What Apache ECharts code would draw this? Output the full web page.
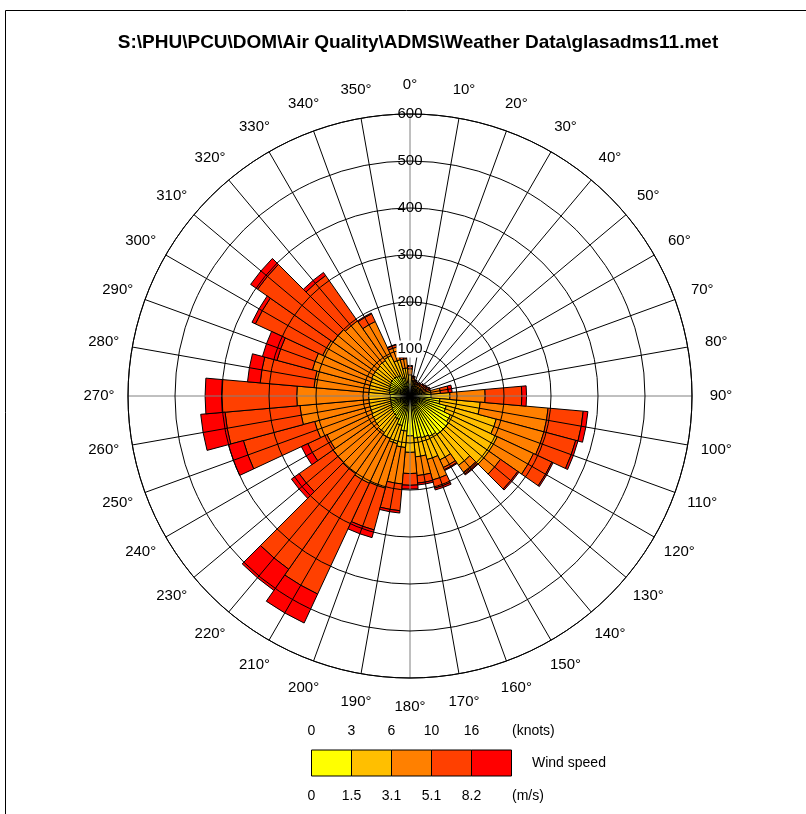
<!DOCTYPE html>
<html><head><meta charset="utf-8">
<script src="https://cdn.jsdelivr.net/npm/echarts/dist/echarts.min.js"></script>
<style>html,body{margin:0;padding:0;background:#fff}#c{width:806px;height:814px}</style>
</head><body><div id="c"></div>
<script>
// Wind directions (degrees) – one 10° sector each
const directions = [0,10,20,30,40,50,60,70,80,90,100,110,120,130,140,150,160,170,180,190,200,210,220,230,240,250,260,270,280,290,300,310,320,330,340,350];
// Counts per speed class (stacked from centre outwards)
const speed0to1_5   = [25,20,15,14,14,15,15,18,25,45,64,80,95,100,100,95,92,90,85,75,65,55,50,48,45,43,42,42,44,46,48,50,50,48,40,30];
const speed1_5to3_1 = [20,13,11,10,10,10,11,10,20,40,86,110,110,105,80,55,48,40,35,35,40,45,45,44,45,45,46,46,44,42,42,40,42,47,40,30];
const speed3_1to5_1 = [13,6,6,5,6,6,7,8,20,75,145,105,85,30,18,18,45,40,45,78,98,105,107,108,105,122,147,153,117,127,115,110,103,80,28,20];
const speed5_1to8_2 = [5,3,3,3,4,5,6,7,17,78,75,70,43,45,5,5,18,16,25,57,92,260,248,88,45,157,160,160,115,78,158,196,118,18,5,4];
const speedOver8_2  = [2,1,1,1,1,2,2,2,8,10,10,5,3,3,2,2,4,4,8,5,17,68,55,20,15,33,52,35,27,32,8,18,8,2,1,1];
const seriesNames = ['0-1.5','1.5-3.1','3.1-5.1','5.1-8.2','>8.2'];
const seriesColors = ['#FFFF00','#FFBF00','#FF8000','#FF4000','#FF0000'];
const radiusTicks = [100,200,300,400,500,600];
const knotsLabels = ['0','3','6','10','16'];
const msLabels = ['0','1.5','3.1','5.1','8.2'];
const titleText = 'S:\\PHU\\PCU\\DOM\\Air Quality\\ADMS\\Weather Data\\glasadms11.met';

const seriesData = [speed0to1_5, speed1_5to3_1, speed3_1to5_1, speed5_1to8_2, speedOver8_2];
const FONT = 'Liberation Sans, Arial, sans-serif';
const C = [410, 396], R = 282, LABEL_R = 311;

const chart = echarts.init(document.getElementById('c'), null, {renderer:'canvas'});

const splitColors = ['#808080','#000','#000','#000','#000','#000','#000','#000','#000'];

const lg = [];
// compass labels, centred on a circle just outside the outer ring
directions.forEach(d=>{
  const a = d*Math.PI/180;
  lg.push({type:'text', x:C[0]+LABEL_R*Math.sin(a), y:C[1]-LABEL_R*Math.cos(a),
    style:{text:d+'°', font:'15px '+FONT, fill:'#000', textAlign:'center', textVerticalAlign:'middle'}, z:100});
});
// legend
const lx0 = 311.5, lw = 40, ly = 750, lh = 26;
seriesColors.forEach((col,i)=>{
  lg.push({type:'rect', shape:{x:lx0+i*lw, y:ly, width:lw, height:lh}, style:{fill:col, stroke:'#000', lineWidth:1}, z:100});
});
knotsLabels.forEach((t,i)=>{
  lg.push({type:'text', x:lx0+i*lw, y:731, style:{text:t, font:'14px '+FONT, fill:'#000', textAlign:'center', textVerticalAlign:'middle'}, z:100});
});
msLabels.forEach((t,i)=>{
  lg.push({type:'text', x:lx0+i*lw, y:796, style:{text:t, font:'14px '+FONT, fill:'#000', textAlign:'center', textVerticalAlign:'middle'}, z:100});
});
lg.push({type:'text', x:512, y:731, style:{text:'(knots)', font:'14px '+FONT, fill:'#000', textAlign:'left', textVerticalAlign:'middle'}, z:100});
lg.push({type:'text', x:512, y:796, style:{text:'(m/s)', font:'14px '+FONT, fill:'#000', textAlign:'left', textVerticalAlign:'middle'}, z:100});
lg.push({type:'text', x:532, y:763, style:{text:'Wind speed', font:'14px '+FONT, fill:'#000', textAlign:'left', textVerticalAlign:'middle'}, z:100});
lg.push({type:'text', x:418, y:43, style:{text:titleText, font:'bold 19px '+FONT, fill:'#000', textAlign:'center', textVerticalAlign:'middle'}, z:100});
lg.push({type:'rect', shape:{x:5.5, y:10.5, width:830, height:840}, style:{fill:null, stroke:'#000', lineWidth:1}, z:100});

const option = {
  backgroundColor:'#fff',
  animation:false,
  polar:[{center:C, radius:R},{center:C, radius:R}],
  angleAxis:[
    {polarIndex:0, type:'category', data:directions.map(String), startAngle:95, clockwise:true,
     axisLine:{show:false}, axisTick:{show:false}, axisLabel:{show:false}, splitLine:{show:false}, splitArea:{show:false}},
    {polarIndex:1, type:'value', min:0, max:360, interval:10, startAngle:90, clockwise:true, z:10,
     axisLine:{show:true, lineStyle:{color:'#000', width:1}}, axisTick:{show:false},
     axisLabel:{show:false},
     splitLine:{show:true, lineStyle:{color:splitColors, width:1}}}
  ],
  radiusAxis:[
    {polarIndex:0, type:'value', min:0, max:600, show:false, splitLine:{show:false}},
    {polarIndex:1, type:'value', min:0, max:600, interval:100, z:11,
     axisLine:{show:false}, axisTick:{show:false},
     axisLabel:{show:true, margin:0, align:'center', verticalAlign:'middle', fontSize:15, color:'#000', fontFamily:FONT,
       formatter:v=> (radiusTicks.indexOf(v)<0) ? '' : (v===100 ? '{w|100}' : String(v)),
       rich:{w:{backgroundColor:'#fff', fontSize:15, fontFamily:FONT, color:'#000', padding:[1,1]}}},
     splitLine:{show:true, lineStyle:{color:'#000', width:1}}}
  ],
  series: seriesData.map((d,i)=>({
    name:seriesNames[i], type:'bar', coordinateSystem:'polar', polarIndex:0, stack:'wind',
    data:d, barCategoryGap:'0%', z:2, silent:true,
    itemStyle:{color:seriesColors[i], borderColor:'#000', borderWidth:1}
  })),
  graphic: lg
};
chart.setOption(option);
</script>
</body></html>
